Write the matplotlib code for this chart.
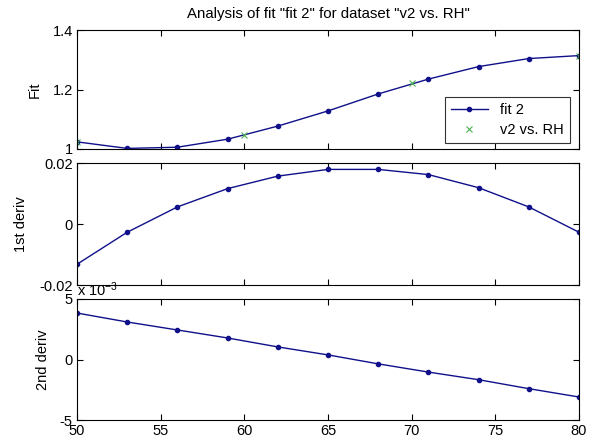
import numpy as np
import matplotlib.pyplot as plt
from matplotlib.ticker import FuncFormatter

plt.rcParams['font.family'] = ['Liberation Sans', 'DejaVu Sans']
plt.rcParams['font.size'] = 10.5
plt.rcParams['mathtext.default'] = 'regular'

# fit evaluated at these x
x_fit = [50, 53, 56, 59, 62, 65, 68, 71, 74, 77, 80]
fit = [1.024, 1.002, 1.006, 1.033, 1.077, 1.128, 1.185, 1.235, 1.277, 1.304, 1.314]
deriv1 = [-0.0132, -0.0027, 0.0056, 0.0116, 0.0157, 0.0179, 0.0179, 0.0162, 0.0119, 0.0056, -0.0027]
deriv2 = [3.84e-3, 3.10e-3, 2.44e-3, 1.78e-3, 1.04e-3, 0.38e-3, -0.36e-3, -1.04e-3, -1.67e-3, -2.41e-3, -3.10e-3]

# dataset points
x_data = [50, 60, 70, 80]
y_data = [1.024, 1.047, 1.221, 1.314]

line_col = '#10108a'
data_col = '#4caf50'

fig = plt.figure(figsize=(5.92, 4.41), dpi=100)
L, W = 77 / 592, (579 - 77) / 592
ax1 = fig.add_axes([L, 1 - 149 / 441, W, (149 - 30) / 441])
ax2 = fig.add_axes([L, 1 - 285 / 441, W, (285 - 163) / 441])
ax3 = fig.add_axes([L, 1 - 420 / 441, W, (420 - 299) / 441])

for ax in (ax1, ax2, ax3):
    ax.set_xlim(50, 80)
    ax.set_xticks([50, 55, 60, 65, 70, 75, 80])
    ax.tick_params(direction='in', top=True, right=True, length=4, width=0.8, pad=3)
    for s in ax.spines.values():
        s.set_linewidth(0.8)
for ax in (ax1, ax2):
    ax.set_xticklabels([])

ax1.plot(x_fit, fit, '.-', color=line_col, lw=1, ms=6, label='fit 2')
ax1.plot(x_data, y_data, 'x', color=data_col, ms=4, mew=0.8, ls='none', label='v2 vs. RH')
ax1.set_ylim(1, 1.4)
ax1.set_yticks([1, 1.2, 1.4])
ax1.set_yticklabels(['1', '1.2', '1.4'])
ax1.set_ylabel('Fit', labelpad=8)
ax1.set_title('Analysis of fit "fit 2" for dataset "v2 vs. RH"', fontsize=10.8, pad=9)
leg = ax1.legend(loc='lower right', bbox_to_anchor=(0.996, -0.01), fancybox=False,
                 edgecolor='#333333', framealpha=1, handlelength=2.6, borderpad=0.4,
                 labelspacing=0.4, fontsize=10.5)
leg.get_frame().set_linewidth(0.8)

ax2.plot(x_fit, deriv1, '.-', color=line_col, lw=1, ms=6)
ax2.set_ylim(-0.02, 0.02)
ax2.set_yticks([-0.02, 0, 0.02])
ax2.set_yticklabels(['-0.02', '0', '0.02'])
ax2.set_ylabel('1st deriv', labelpad=8)

ax3.plot(x_fit, deriv2, '.-', color=line_col, lw=1, ms=6)
ax3.set_ylim(-5e-3, 5e-3)
ax3.set_yticks([-5e-3, 0, 5e-3])
ax3.yaxis.set_major_formatter(FuncFormatter(lambda v, p: '%g' % round(v / 1e-3, 6)))
ax3.set_ylabel('2nd deriv', labelpad=7)
ax3.text(0.0, 1.0, r'x 10$^{-3}$', transform=ax3.transAxes, ha='left', va='bottom',
         fontsize=10.5)

fig.savefig('out.png', dpi=100)
